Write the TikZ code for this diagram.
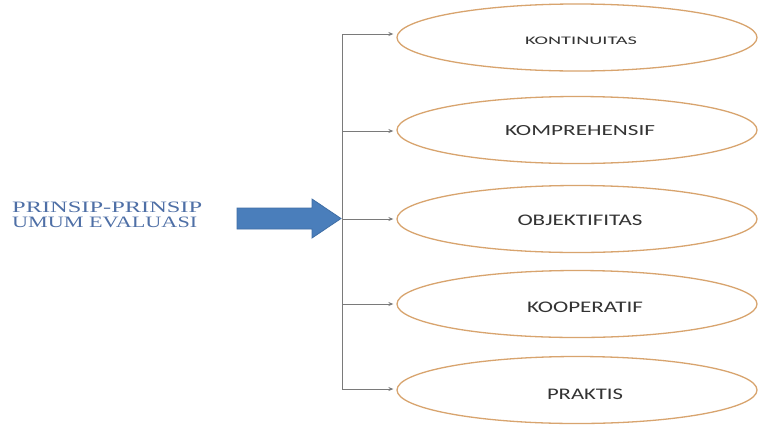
\documentclass[tikz,border=0pt]{standalone}
\usepackage{fontspec}
\setmainfont{Liberation Serif}
\newfontfamily\lblfont{Carlito}
\usetikzlibrary{shapes.geometric,arrows.meta}
\definecolor{ellcol}{HTML}{D8A46E}
\definecolor{linecol}{HTML}{7A7A7A}
\definecolor{arrfill}{HTML}{4A7EBB}
\definecolor{arrdraw}{HTML}{3F6EA5}
\definecolor{titlecol}{HTML}{4E6FA6}
\definecolor{txtcol}{HTML}{333333}
\tikzset{
  ell/.style={ellipse, draw=ellcol, line width=1.3pt, fill=white,
    minimum width=360pt, minimum height=67pt, inner sep=0pt},
  lbl/.style={font=\lblfont, text=txtcol, inner sep=0pt},
  branch/.style={draw=linecol, line width=0.9pt,
    -{Stealth[length=5pt,width=4pt]}, shorten >=3pt},
  trunk/.style={draw=linecol, line width=0.9pt},
  ttl/.style={anchor=west, text=titlecol, inner sep=0pt},
}
\begin{document}
\begin{tikzpicture}[x=1pt,y=-1pt]
\useasboundingbox (0,0) rectangle (759,429);
\fill[white] (0,0) rectangle (759,429);
% ellipses
\node[ell] (e1) at (577,37.5) {};
\node[ell] (e2) at (577,130) {};
\node[ell] (e3) at (577,219) {};
\node[ell] (e4) at (577,304) {};
\node[ell] (e5) at (577,390) {};
% labels
\node[lbl] (t1) at (581,41) {\resizebox{112pt}{7.5pt}{KONTINUITAS}};
\node[lbl] (t2) at (580,131) {\resizebox{150pt}{10pt}{KOMPREHENSIF}};
\node[lbl] (t3) at (580,220.5) {\resizebox{125pt}{10.5pt}{OBJEKTIFITAS}};
\node[lbl] (t4) at (585,307) {\resizebox{116pt}{10.5pt}{KOOPERATIF}};
\node[lbl] (t5) at (585,394) {\resizebox{76pt}{10.5pt}{PRAKTIS}};
% trunk
\coordinate (top) at (342,34);
\coordinate (bot) at (342,389);
\draw[trunk] (top) -- (bot);
\coordinate (b2) at (342,131);
\coordinate (b3) at (342,219);
\coordinate (b4) at (342,304);
\draw[branch] (top) -- (e1.west |- top);
\draw[branch] (b2) -- (e2.west |- b2);
\draw[branch] (b3) -- (e3.west |- b3);
\draw[branch] (b4) -- (e4.west |- b4);
\draw[branch] (bot) -- (e5.west |- bot);
% big blue arrow
\draw[fill=arrfill, draw=arrdraw, line width=0.8pt, line join=miter]
  (237,208) -- (312,208) -- (312,199) -- (341,218.5) -- (312,238) -- (312,229) -- (237,229) -- cycle;
% title
\node[ttl] (title1) at (12,207) {\resizebox{190pt}{10.5pt}{PRINSIP-PRINSIP}};
\node[ttl] (title2) at (12,222.5) {\resizebox{185pt}{10.5pt}{UMUM EVALUASI}};
\end{tikzpicture}
\end{document}
